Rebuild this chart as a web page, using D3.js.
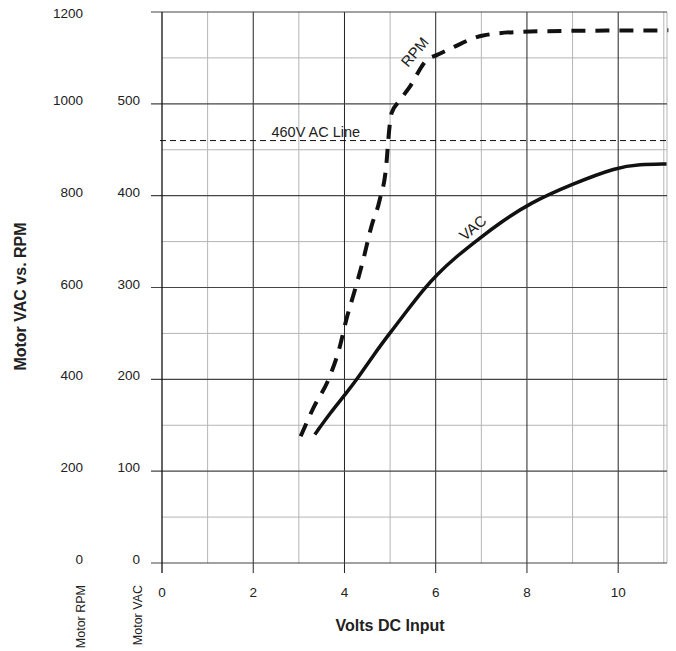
<!DOCTYPE html>
<html>
<head>
<meta charset="utf-8">
<script src="https://cdn.jsdelivr.net/npm/d3@7"></script>
<style>
  body { margin: 0; background: #fff; }
  text { font-family: "Liberation Sans", Arial, sans-serif; fill: #222; }
</style>
</head>
<body>
<div id="chart"></div>
<script>
// Data
var volts = [3.04, 3.31, 3.68, 3.90, 4.04, 4.23, 4.41, 4.59, 4.77, 4.92, 4.96, 5.03, 5.21, 5.43, 5.80, 6.02, 6.32, 7.04, 7.92, 9.01, 11.1];
var rpm = [276, 336, 407, 472, 530, 595, 660, 733, 790, 870, 921, 979, 1007, 1037, 1095, 1106, 1120, 1149, 1157, 1159, 1160];

var vacVolts = [3.35, 3.68, 4.04, 4.33, 4.63, 4.99, 5.36, 5.72, 6.02, 6.46, 6.97, 7.40, 8.06, 9.01, 9.97, 10.47, 11.06];
var vac = [140, 163, 185, 204, 226, 250, 274, 297, 314, 334, 354, 370, 392, 413, 431, 434, 434.5];

var acLine = 460;
var xTicks = [0, 2, 4, 6, 8, 10];
var vacTicks = [0, 100, 200, 300, 400, 500];
var rpmTicks = [0, 200, 400, 600, 800, 1000, 1200];

// Dimensions
var margin = { top: 12, right: 9, bottom: 88, left: 162 },
    width = 676 - margin.left - margin.right,
    height = 651 - margin.top - margin.bottom;

var svg = d3.select("#chart")
    .append("svg")
    .attr("width", 676)
    .attr("height", 651)
    .append("g")
    .attr("transform", "translate(" + margin.left + "," + margin.top + ")");

// Scales
var x = d3.scaleLinear().domain([0, 11.07]).range([0, width]);
var y = d3.scaleLinear().domain([0, 600]).range([height, 0]);
var yRpm = d3.scaleLinear().domain([0, 1200]).range([height, 0]);

// Minor grid
svg.append("g")
    .selectAll("line")
    .data(d3.range(1, 12, 2).filter(function (d) { return d < 11.07; }))
    .enter().append("line")
    .attr("x1", function (d) { return x(d); })
    .attr("x2", function (d) { return x(d); })
    .attr("y1", 0).attr("y2", height)
    .style("stroke", "#b5b5b5").style("stroke-width", 1);

svg.append("g")
    .selectAll("line")
    .data(d3.range(50, 600, 100))
    .enter().append("line")
    .attr("x1", 0).attr("x2", width)
    .attr("y1", function (d) { return y(d); })
    .attr("y2", function (d) { return y(d); })
    .style("stroke", "#b5b5b5").style("stroke-width", 1);

// Right border
svg.append("line")
    .attr("x1", width).attr("x2", width)
    .attr("y1", 0).attr("y2", height)
    .style("stroke", "#b5b5b5").style("stroke-width", 1);

// Major grid
svg.append("g")
    .selectAll("line")
    .data(xTicks.slice(1))
    .enter().append("line")
    .attr("x1", function (d) { return x(d); })
    .attr("x2", function (d) { return x(d); })
    .attr("y1", 0).attr("y2", height + 10)
    .style("stroke", "#222").style("stroke-width", 1);

svg.append("g")
    .selectAll("line")
    .data(d3.range(0, 700, 100))
    .enter().append("line")
    .attr("x1", -11).attr("x2", width)
    .attr("y1", function (d) { return y(d); })
    .attr("y2", function (d) { return y(d); })
    .style("stroke", "#444").style("stroke-width", 1.2);

// Left axis line
svg.append("line")
    .attr("x1", 0).attr("x2", 0)
    .attr("y1", 0).attr("y2", height + 10)
    .style("stroke", "#111").style("stroke-width", 1.3);

// Tick labels
svg.append("g")
    .selectAll("text")
    .data(xTicks)
    .enter().append("text")
    .attr("x", function (d) { return x(d); })
    .attr("y", height + 34)
    .style("text-anchor", "middle")
    .style("font-size", "13.5px")
    .text(function (d) { return d; });

svg.append("g")
    .selectAll("text")
    .data(vacTicks)
    .enter().append("text")
    .attr("x", -22)
    .attr("y", function (d) { return y(d) + 1; })
    .style("text-anchor", "end")
    .style("font-size", "13.5px")
    .text(function (d) { return d; });

// top label sits a little lower so it stays on the page
svg.append("g")
    .selectAll("text")
    .data(rpmTicks)
    .enter().append("text")
    .attr("x", -79)
    .attr("y", function (d) { return Math.max(yRpm(d) + 1, 6); })
    .style("text-anchor", "end")
    .style("font-size", "13.5px")
    .text(function (d) { return d; });

// Axis titles
svg.append("text")
    .attr("x", x(5))
    .attr("y", height + 68)
    .style("text-anchor", "middle")
    .style("font-size", "16px")
    .style("font-weight", "bold")
    .text("Volts DC Input");

svg.append("text")
    .attr("transform", "translate(" + (-136) + "," + (height / 2 + 9) + ") rotate(-90)")
    .style("text-anchor", "middle")
    .style("font-size", "16px")
    .style("font-weight", "bold")
    .text("Motor VAC vs. RPM");

svg.append("text")
    .attr("transform", "translate(" + (-77) + "," + (height + 22) + ") rotate(-90)")
    .style("text-anchor", "end")
    .style("font-size", "12.5px")
    .text("Motor RPM");

svg.append("text")
    .attr("transform", "translate(" + (-20) + "," + (height + 22) + ") rotate(-90)")
    .style("text-anchor", "end")
    .style("font-size", "12.5px")
    .text("Motor VAC");

// 460V AC line
svg.append("line")
    .attr("x1", -2).attr("x2", width)
    .attr("y1", y(acLine)).attr("y2", y(acLine))
    .style("stroke", "#111").style("stroke-width", 1)
    .style("stroke-dasharray", "6,4");

svg.append("text")
    .attr("x", x(2.4))
    .attr("y", y(acLine) - 4)
    .style("font-size", "14.5px")
    .text("460V AC Line");

// Curves
var rpmLine = d3.line()
    .x(function (d, i) { return x(volts[i]); })
    .y(function (d) { return yRpm(d); })
    .curve(d3.curveMonotoneX);

svg.append("path")
    .datum(rpm)
    .attr("d", rpmLine)
    .style("fill", "none")
    .style("stroke", "#111")
    .style("stroke-width", 4)
    .style("stroke-dasharray", "14,10");

var vacLine = d3.line()
    .x(function (d, i) { return x(vacVolts[i]); })
    .y(function (d) { return y(d); })
    .curve(d3.curveBasis);

svg.append("path")
    .datum(vac)
    .attr("d", vacLine)
    .style("fill", "none")
    .style("stroke", "#111")
    .style("stroke-width", 3.5);

// Curve labels
svg.append("text")
    .attr("transform", "translate(" + x(5.54) + "," + yRpm(1113) + ") rotate(-50)")
    .attr("dy", "0.35em")
    .style("text-anchor", "middle")
    .style("font-size", "15px")
    .text("RPM");

svg.append("text")
    .attr("transform", "translate(" + x(6.81) + "," + y(365) + ") rotate(-40)")
    .attr("dy", "0.35em")
    .style("text-anchor", "middle")
    .style("font-size", "15px")
    .text("VAC");
</script>
</body>
</html>
